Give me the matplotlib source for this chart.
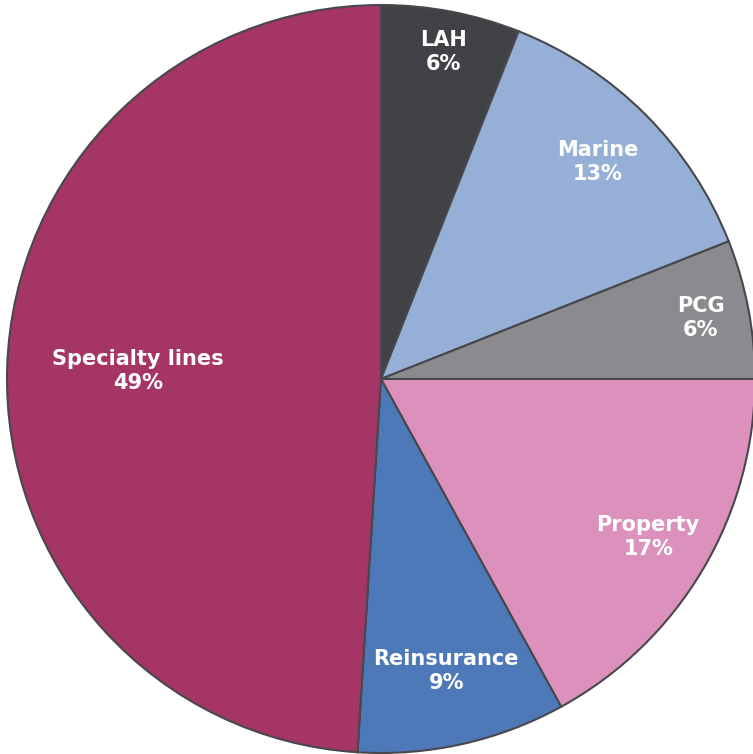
import matplotlib.pyplot as plt
import numpy as np

segments = ['LAH', 'Marine', 'PCG', 'Property', 'Reinsurance', 'Specialty lines']
shares = [6, 13, 6, 17, 9, 49]
colors = ['#414246', '#95afd7', '#8b8b8f', '#dc91bd', '#4e79b9', '#a43565']
label_radius = [0.89, 0.82, 0.87, 0.83, 0.80, 0.65]

fig = plt.figure(figsize=(7.53, 7.54), dpi=100)
ax = fig.add_axes([0, 0, 1, 1])

wedges, _ = ax.pie(shares, colors=colors, startangle=90, counterclock=False,
                   radius=1.0,
                   wedgeprops={'edgecolor': '#48484c', 'linewidth': 1.5})

# labels at each wedge's mid angle
start = 90.0
for name, share, r in zip(segments, shares, label_radius):
    mid = np.deg2rad(start - share * 360 / 100 / 2)
    start -= share * 360 / 100
    ax.text(r * np.cos(mid), r * np.sin(mid), f'{name}\n{share}%',
            ha='center', va='center', color='white', fontsize=15,
            fontweight='bold', family='DejaVu Sans', linespacing=1.25)

ax.set_xlim(-1.0187, 0.9947)
ax.set_ylim(-1.0027, 1.0134)
ax.set_aspect('equal')
ax.axis('off')

fig.savefig('out.png', dpi=100)
